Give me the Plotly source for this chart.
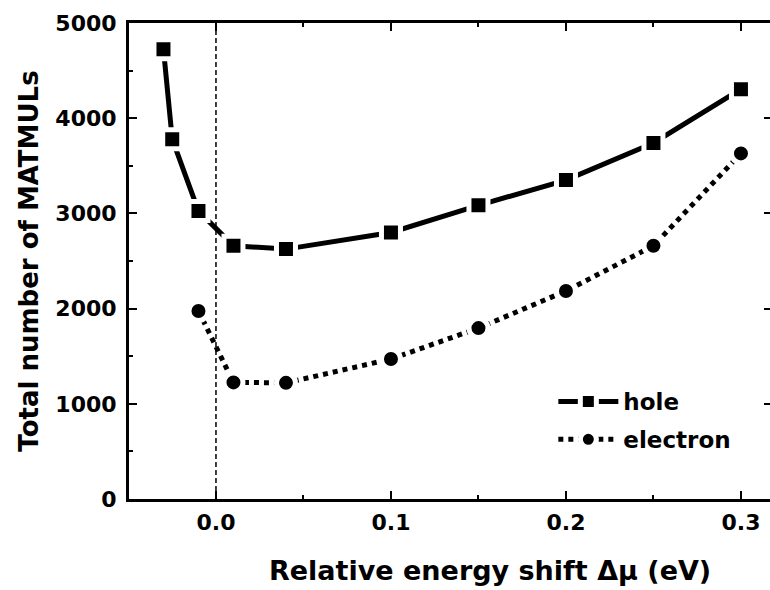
import plotly.graph_objects as go

# Data
hole_x = [-0.03, -0.025, -0.01, 0.01, 0.04, 0.10, 0.15, 0.20, 0.25, 0.30]
hole_y = [4725, 3780, 3025, 2660, 2625, 2800, 3085, 3350, 3740, 4305]

electron_x = [-0.01, 0.01, 0.04, 0.10, 0.15, 0.20, 0.25, 0.30]
electron_y = [1975, 1225, 1220, 1470, 1795, 2185, 2660, 3630]

x_range = [-0.0497, 0.3166]
y_range = [0, 5000]

x_title = "Relative energy shift Δμ (eV)"
y_title = "Total number of MATMULs"

FONT = "DejaVu Sans, Liberation Sans, Arial, sans-serif"

fig = go.Figure()

fig.add_trace(go.Scatter(
    x=hole_x, y=hole_y, name="hole", mode="lines+markers", legendgroup="h",
    line=dict(color="black", width=5, dash="solid"),
    marker=dict(symbol="square", size=19, color="black",
                line=dict(color="white", width=5)),
))
fig.add_trace(go.Scatter(
    x=electron_x, y=electron_y, name="electron", mode="lines+markers",
    legendgroup="e",
    line=dict(color="black", width=5, dash="dot"),
    marker=dict(symbol="circle", size=19, color="black",
                line=dict(color="white", width=5)),
))

# dashed vertical reference line at 0
fig.add_vline(x=0, line=dict(color="black", width=1.5, dash="5px,3px"), layer="below")

# invisible trace to carry the right-side tick marks
fig.add_trace(go.Scatter(x=[hole_x[0]], y=[hole_y[0]], yaxis="y2",
                         mode="markers", marker=dict(opacity=0),
                         showlegend=False, hoverinfo="skip"))

fig.add_annotation(text=x_title, xref="paper", yref="paper",
                   x=0.563, y=-0.151, xanchor="center", yanchor="middle",
                   showarrow=False,
                   font=dict(family=FONT, size=27, color="black", weight="bold"))

fig.update_layout(
    width=770, height=590,
    margin=dict(l=129, r=0, t=23, b=91),
    paper_bgcolor="white", plot_bgcolor="white",
    font=dict(family=FONT, size=22, color="black", weight="bold"),
    showlegend=True,
    legend=dict(x=0.662, y=0.25, xanchor="left", yanchor="top",
                bgcolor="rgba(0,0,0,0)", borderwidth=0,
                font=dict(family=FONT, size=23, color="black", weight="bold"),
                tracegroupgap=5, itemwidth=60),
    xaxis=dict(
        range=x_range, dtick=0.1, tick0=0, tickformat=".1f",
        showgrid=False, zeroline=False,
        showline=True, linecolor="black", linewidth=3, mirror="ticks",
        ticks="inside", ticklen=8, tickwidth=2, tickcolor="black",
        minor=dict(dtick=0.05, ticks="inside", ticklen=4, tickwidth=2,
                   tickcolor="black", showgrid=False),
        tickfont=dict(family=FONT, size=22, weight="bold"),
        ticklabelstandoff=2,
    ),
    yaxis=dict(
        range=y_range, dtick=1000, tick0=0,
        showgrid=False, zeroline=False,
        showline=True, linecolor="black", linewidth=3, mirror=False,
        ticks="inside", ticklen=8, tickwidth=2, tickcolor="black",
        minor=dict(dtick=500, ticks="inside", ticklen=4, tickwidth=2,
                   tickcolor="black", showgrid=False),
        tickfont=dict(family=FONT, size=22, weight="bold"),
        ticklabelstandoff=5,
        title=dict(text=y_title,
                   font=dict(family=FONT, size=26, weight="bold"), standoff=10),
    ),
    yaxis2=dict(
        range=y_range, dtick=1000, tick0=0, overlaying="y", side="right",
        showgrid=False, zeroline=False, showline=False, showticklabels=False,
        ticks="inside", ticklen=6, tickwidth=2, tickcolor="black",
    ),
)

fig.write_html("out.html")
